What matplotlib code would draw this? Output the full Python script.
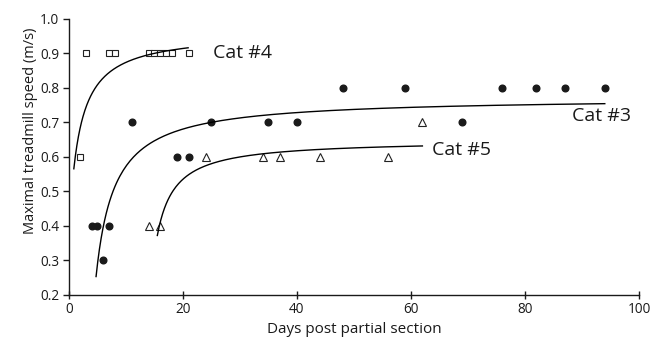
import numpy as np
import matplotlib
matplotlib.use('Agg')
import matplotlib.pyplot as plt

matplotlib.rcParams['font.family'] = ['Open Sans', 'DejaVu Sans']

# Cat #4 (open squares)
cat4_days = [2, 3, 7, 8, 14, 15, 16, 17, 18, 21]
cat4_speed = [0.6, 0.9, 0.9, 0.9, 0.9, 0.9, 0.9, 0.9, 0.9, 0.9]

# Cat #3 (filled circles)
cat3_days = [4, 5, 6, 7, 11, 19, 21, 25, 35, 40, 48, 59, 69, 76, 82, 87, 94]
cat3_speed = [0.4, 0.4, 0.3, 0.4, 0.7, 0.6, 0.6, 0.7, 0.7, 0.7, 0.8, 0.8,
              0.7, 0.8, 0.8, 0.8, 0.8]

# Cat #5 (open triangles)
cat5_days = [14, 16, 24, 34, 37, 44, 56, 62]
cat5_speed = [0.4, 0.4, 0.6, 0.6, 0.6, 0.6, 0.6, 0.7]

# Fitted curves y = a - b / (x - c), parameters
fit_params = {
    'Cat #4': (0.962, 1.03, -1.75, 0.85, 20.9),
    'Cat #3': (0.773, 1.704, 1.47, 4.75, 94.0),
    'Cat #5': (0.6495, 0.8696, 12.36, 15.5, 62.0),
}
label_pos = {
    'Cat #4': (25.3, 0.886),
    'Cat #3': (88.3, 0.705),
    'Cat #5': (63.6, 0.606),
}

fig = plt.figure(figsize=(6.57, 3.41), dpi=100)
ax = fig.add_axes([0.105, 0.1349, 0.8676, 0.8094])

ax.plot(cat4_days, cat4_speed, linestyle='none', marker='s', markersize=4.3,
        markerfacecolor='white', markeredgecolor='#222222', markeredgewidth=0.8)
ax.plot(cat3_days, cat3_speed, linestyle='none', marker='o', markersize=4.8,
        color='#1a1a1a')
ax.plot(cat5_days, cat5_speed, linestyle='none', marker='^', markersize=5.2,
        markerfacecolor='white', markeredgecolor='#222222', markeredgewidth=0.8)

for name, (a, b, c, x0, x1) in fit_params.items():
    xs = np.linspace(x0, x1, 300)
    ax.plot(xs, a - b / (xs - c), color='black', linewidth=1.0)
    lx, ly = label_pos[name]
    ax.text(lx, ly, name, fontsize=14, ha='left', va='baseline', color='#1a1a1a')

ax.set_xlim(0, 100)
ax.set_ylim(0.2, 1.0)
ax.set_xticks(np.arange(0, 101, 20))
ax.set_yticks(np.arange(0.2, 1.01, 0.1))
ax.set_yticklabels([f'{v:.1f}' for v in np.arange(0.2, 1.01, 0.1)])

for s in ['top', 'right']:
    ax.spines[s].set_visible(False)
for s in ['left', 'bottom']:
    ax.spines[s].set_linewidth(1.0)
    ax.spines[s].set_color('#1a1a1a')

ax.tick_params(axis='x', direction='inout', length=6, width=1.0, labelsize=9.8, pad=2,
               colors='#1a1a1a')
ax.tick_params(axis='y', direction='out', length=4, width=1.0, labelsize=9.8, pad=3,
               colors='#1a1a1a')

ax.set_xlabel('Days post partial section', fontsize=11, color='#1a1a1a', labelpad=4)
ax.set_ylabel('Maximal treadmill speed (m/s)', fontsize=10.5, color='#1a1a1a')
# label sits a bit above the axis centre in the original
ax.yaxis.set_label_coords(-0.054, 0.594)

fig.savefig('out.png', dpi=100)
